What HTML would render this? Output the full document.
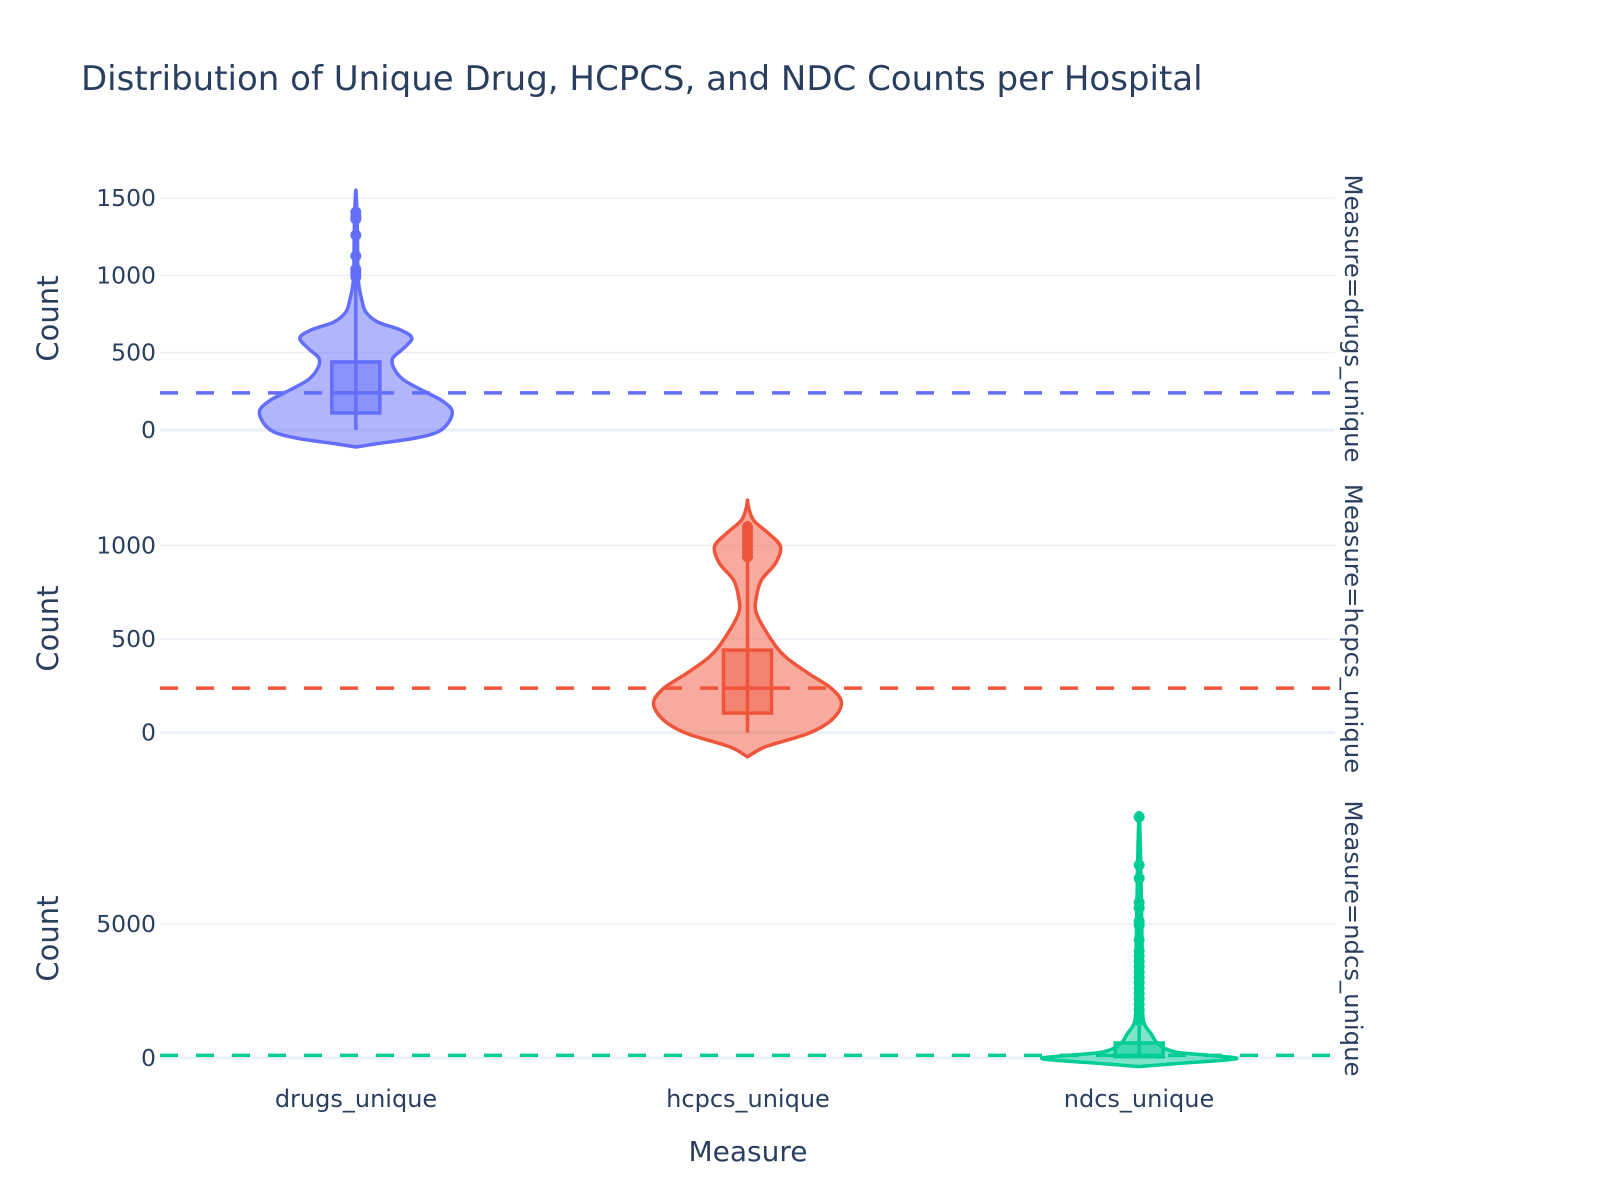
<!DOCTYPE html>
<html><head><meta charset="utf-8">
<style>
html,body{margin:0;padding:0;background:#fff;}
svg{display:block;font-family:"DejaVu Sans","Liberation Sans",sans-serif;}
</style></head>
<body>
<svg id="chart" width="1600" height="1200" viewBox="0 0 1600 1200" xmlns="http://www.w3.org/2000/svg">
<rect width="1600" height="1200" fill="#fff"/>
<text x="81" y="90" font-size="34" fill="#2a3f5f">Distribution of Unique Drug, HCPCS, and NDC Counts per Hospital</text>
<g id="plots"></g>
<text x="356" y="1107" font-size="24" fill="#2a3f5f" text-anchor="middle">drugs_unique</text>
<text x="748" y="1107" font-size="24" fill="#2a3f5f" text-anchor="middle">hcpcs_unique</text>
<text x="1139" y="1107" font-size="24" fill="#2a3f5f" text-anchor="middle">ndcs_unique</text>
<text x="748" y="1161" font-size="28" fill="#2a3f5f" text-anchor="middle">Measure</text>
</svg>
<script>
// ---- data ----
const categories = ["drugs_unique","hcpcs_unique","ndcs_unique"];
const drugsViolinY = [-110,-90,-52,-13,52,129,194,245,323,400,465,530,595,646,698,763,840,937,1034,1300,1551];
const drugsViolinW = [0,20,60,82,93,96,85,70,48,38,37,48,56,45,22,10,6,3,2,1.5,0];
const drugsBox = [0,110,240,440,866]; // lower whisker, q1, median, q3, upper whisker
const drugsOutliers = [990,1015,1040,1125,1260,1364,1380,1409];
const drugsTicks = [0,500,1000,1500];

const hcpcsViolinY = [-130,-76,-4,67,156,236,316,405,495,637,727,816,905,994,1065,1136,1207,1243];
const hcpcsViolinW = [0,18,61,84,94,84,61,38,24,9,9,14,28,33,21,6,1,0];
const hcpcsBox = [0,104,238,441,933];
const hcpcsOutliers = [940,960,980,1000,1020,1040,1060,1080,1100];
const hcpcsTicks = [0,500,1000];

const ndcsViolinY = [-320,-200,-80,0,100,200,350,600,900,1300,2000,4000,9000];
const ndcsViolinW = [0,40,85,97,70,40,26,17,12,5,3,3,0];
const ndcsBox = [0,50,100,560,1300];
const ndcsOutliers = [1400,1600,1800,2000,2200,2400,2600,2800,3000,3200,3400,3600,3800,4000,4400,4960,5100,5600,5800,6700,7200,8990];
const ndcsTicks = [0,5000];

const panels = [
 {key:"drugs", color:"#636efa", fill:"rgba(99,110,250,0.5)", boxFill:"rgba(99,110,250,0.5)", vy:drugsViolinY, vw:drugsViolinW, box:drugsBox, out:drugsOutliers, ticks:drugsTicks, ymin:-136, ymax:1578, top:186, bot:451, cat:0},
 {key:"hcpcs", color:"#ef553b", fill:"rgba(239,85,59,0.5)", boxFill:"rgba(239,85,59,0.45)", vy:hcpcsViolinY, vw:hcpcsViolinW, box:hcpcsBox, out:hcpcsOutliers, ticks:hcpcsTicks, ymin:-152, ymax:1265, top:496, bot:761, cat:1},
 {key:"ndcs", color:"#00cc96", fill:"rgba(0,204,150,0.5)", boxFill:"rgba(0,204,150,0.5)", vy:ndcsViolinY, vw:ndcsViolinW, box:ndcsBox, out:ndcsOutliers, ticks:ndcsTicks, ymin:-485, ymax:9400, top:806, bot:1071, cat:2}
];
// ---- drawing ----
const NS="http://www.w3.org/2000/svg";
const L=160, R=1335;
const root=document.getElementById('plots');
function mk(tag, attrs, parent){const e=document.createElementNS(NS,tag);for(const k in attrs)e.setAttribute(k,attrs[k]);(parent||root).appendChild(e);return e;}
function xScale(i){return L+(R-L)*(i+0.5)/categories.length;}
function smooth(pts){
  let d='M'+pts[0][0]+','+pts[0][1];
  for(let i=0;i<pts.length-1;i++){
    const p0=pts[Math.max(0,i-1)],p1=pts[i],p2=pts[i+1],p3=pts[Math.min(pts.length-1,i+2)];
    const c1=[p1[0]+(p2[0]-p0[0])/6,p1[1]+(p2[1]-p0[1])/6];
    const c2=[p2[0]-(p3[0]-p1[0])/6,p2[1]-(p3[1]-p1[1])/6];
    d+='C'+c1[0]+','+c1[1]+' '+c2[0]+','+c2[1]+' '+p2[0]+','+p2[1];
  }
  return d;
}
panels.forEach(p=>{
  const ys=v=>p.bot-(v-p.ymin)/(p.ymax-p.ymin)*(p.bot-p.top);
  const g=mk('g',{});
  
  
  p.ticks.forEach(t=>{
    const ln=mk('line',{x1:L,x2:R,y1:ys(t),y2:ys(t),stroke:'#ebf0f8','stroke-width':t===0?3:1.5},g);
    
    
    const tx=mk('text',{x:L-4,y:ys(t)+8,'font-size':23.5,fill:'#2a3f5f','text-anchor':'end'},g);
    tx.textContent=t;
    
    
  });
  const cy=(p.top+p.bot)/2;
  const yt=mk('text',{x:0,y:0,'font-size':29,fill:'#2a3f5f','text-anchor':'middle',transform:`translate(58,${cy}) rotate(-90)`},g);
  yt.textContent='Count';
  
  
  const ft=mk('text',{x:0,y:0,'font-size':24.3,fill:'#2a3f5f','text-anchor':'middle',transform:`translate(1345,${cy}) rotate(90)`},g);
  ft.textContent='Measure='+categories[p.cat];
  
  
  const cx=xScale(p.cat);
  const pts=[];
  p.vy.forEach((v,i)=>pts.push([cx-p.vw[i],ys(v)]));
  for(let i=p.vy.length-2;i>=1;i--) pts.push([cx+p.vw[i],ys(p.vy[i])]);
  pts.push([cx,ys(p.vy[0])]);
  const vio=mk('path',{d:smooth(pts)+'Z',fill:p.fill,stroke:p.color,'stroke-width':3.5,'stroke-linejoin':'round'},g);
  
  
  const wh=mk('line',{x1:cx,x2:cx,y1:ys(p.box[0]),y2:ys(p.box[4]),stroke:p.color,'stroke-width':3.5},g);
  
  
  const bx=mk('rect',{x:cx-24,y:ys(p.box[3]),width:48,height:ys(p.box[1])-ys(p.box[3]),fill:p.boxFill,stroke:p.color,'stroke-width':3.5},g);
  
  
  const md=mk('line',{x1:cx-24,x2:cx+24,y1:ys(p.box[2]),y2:ys(p.box[2]),stroke:p.color,'stroke-width':3.5},g);
  
  
  if(p.out.length){
    const ol=mk('line',{x1:cx,x2:cx,y1:ys(p.box[4]),y2:ys(Math.max(...p.out))-6,stroke:p.color,'stroke-width':3.5},g);
    
    
  }
  p.out.forEach(o=>{
    const c=mk('circle',{cx:cx,cy:ys(o),r:5.5,fill:p.color},g);
    
    
  });
  const dl=mk('line',{x1:L,x2:R,y1:ys(p.box[2]),y2:ys(p.box[2]),stroke:p.color,'stroke-width':3.5,'stroke-dasharray':'18,18'},g);
  
  
});
</script>
</body></html>
